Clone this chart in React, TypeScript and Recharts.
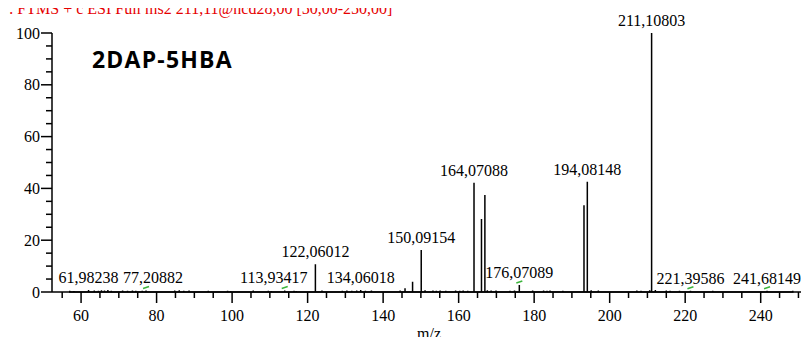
import { ComposedChart, Line, Scatter, XAxis, YAxis } from "recharts";

// centroid peaks (m/z, relative abundance %)
const peakMz = [
  57.0, 58.1, 61.98238, 63.5, 64.6, 65.4, 66.2, 67.1, 68.0, 71.0, 72.3, 73.6, 74.5, 76.2, 77.20882,
  84.8, 86.0, 87.2, 88.6, 93.7, 98.8, 99.6, 105.6, 109.6, 110.4, 113.93417, 116.4, 117.0,
  122.06012, 123.8, 129.2, 130.4, 131.7, 133.0, 134.06018, 135.3, 136.9, 144.5, 145.8, 147.8,
  150.09154, 151.1, 153.2, 154.1, 155.1, 156.6, 159.2, 160.3, 161.2, 162.4, 164.07088, 166.05,
  166.95, 167.6, 168.6, 169.9, 173.6, 174.8, 176.07089, 179.6, 182.5, 183.4, 184.2, 187.6, 193.2,
  194.08148, 195.1, 197.0, 207.2, 208.3, 210.6, 211.10803, 212.1, 215.0, 216.0, 218.5, 221.39586,
  227.3, 241.68149, 248.5,
];
const peakIntensity = [
  0.5, 0.4, 0.8, 0.6, 0.5, 0.7, 0.6, 0.8, 0.5, 0.6, 0.5, 0.6, 0.5, 0.5, 0.6,
  0.6, 0.7, 0.5, 0.6, 0.5, 0.5, 0.4, 0.6, 0.5, 0.4, 0.6, 0.5, 0.4,
  10.7, 0.6, 0.5, 0.6, 0.5, 0.6, 0.8, 0.5, 0.6, 0.6, 1.4, 4.0,
  16.2, 0.7, 0.6, 0.5, 0.6, 0.5, 0.6, 0.5, 0.6, 0.5, 42.2, 28.2,
  37.5, 0.7, 0.6, 0.6, 0.5, 0.6, 2.7, 0.6, 0.6, 0.5, 0.6, 0.5, 33.5,
  42.6, 0.7, 0.6, 0.6, 0.5, 0.7, 100, 0.8, 0.6, 0.5, 0.5, 0.5,
  0.5, 0.5, 0.5,
];

// annotated peaks
const labelMz = [
  61.98238, 77.20882, 113.93417, 122.06012, 134.06018, 150.09154, 164.07088, 176.07089, 194.08148,
  211.10803, 221.39586, 241.68149,
];
const flaggedMz = [77.20882, 113.93417, 176.07089, 221.39586, 241.68149];

const xTicks = [
  55, 60, 65, 70, 75, 80, 85, 90, 95, 100, 105, 110, 115, 120, 125, 130, 135, 140, 145, 150, 155, 160,
  165, 170, 175, 180, 185, 190, 195, 200, 205, 210, 215, 220, 225, 230, 235, 240, 245, 250,
];
const yTicks = [0, 5, 10, 15, 20, 25, 30, 35, 40, 45, 50, 55, 60, 65, 70, 75, 80, 85, 90, 95, 100];

const headerText = "F: FTMS + c ESI Full ms2 211,11@hcd28,00 [50,00-250,00]";
const compoundName = "2DAP-5HBA";

// labels that the instrument software pushed sideways to avoid overlap
const labelNudge: Record<string, number> = { "77.20882": 7, "113.93417": -11 };

const serif = "Liberation Serif, Times New Roman, serif";

const spectrum = peakMz
  .map((mz, i) => ({ mz, y: peakIntensity[i] }))
  .sort((a, b) => a.mz - b.mz)
  .flatMap((p) => [
    { mz: p.mz, y: 0 },
    { mz: p.mz, y: p.y },
    { mz: p.mz, y: 0 },
  ]);

const labelled = labelMz.map((mz) => ({
  mz,
  y: peakIntensity[peakMz.indexOf(mz)],
  text: mz.toFixed(5).replace(".", ","),
  flag: flaggedMz.includes(mz),
  nudge: labelNudge[String(mz)] ?? 0,
}));

function XTick({ x, y, payload }: { x: number; y: number; payload: { value: number } }) {
  const major = payload.value % 20 === 0;
  return (
    <g>
      <line x1={x} x2={x} y1={y} y2={y + (major ? 11 : 6)} stroke="#000" strokeWidth={1.5} />
      {major && (
        <text x={x} y={y + 29} textAnchor="middle" fontFamily={serif} fontSize={16} fill="#000">
          {payload.value}
        </text>
      )}
    </g>
  );
}

function YTick({ x, y, payload }: { x: number; y: number; payload: { value: number } }) {
  const major = payload.value % 20 === 0;
  return (
    <g>
      <line x1={x - (major ? 11 : 6)} x2={x} y1={y} y2={y} stroke="#000" strokeWidth={1.5} />
      {major && (
        <text x={x - 12} y={y} dy="0.35em" textAnchor="end" fontFamily={serif} fontSize={16} fill="#000">
          {payload.value}
        </text>
      )}
    </g>
  );
}

function PeakLabel(props: any) {
  const { cx, cy, payload } = props;
  return (
    <g>
      {payload.flag && (
        <line x1={cx - 3} y1={cy - 2} x2={cx + 3} y2={cy - 4} stroke="#3cb43c" strokeWidth={1.5} />
      )}
      <text x={cx + payload.nudge} y={cy - 7} textAnchor="middle" fontFamily={serif} fontSize={16} fill="#000">
        {payload.text}
      </text>
    </g>
  );
}

export default function App() {
  return (
    <div style={{ position: "relative", width: 809, height: 345, margin: -8, background: "#fff", overflow: "hidden" }}>
      <ComposedChart width={809} height={345} data={spectrum} margin={{ top: 33, right: 3, bottom: 0, left: 0 }}>
        <XAxis
          dataKey="mz"
          type="number"
          domain={[52.3, 252]}
          ticks={xTicks}
          interval={0}
          tickSize={0}
          tickMargin={0}
          tickLine={false}
          axisLine={{ stroke: "#000", strokeWidth: 1.5 }}
          tick={(p: any) => <XTick {...p} />}
          height={53}
        />
        <YAxis
          dataKey="y"
          type="number"
          domain={[0, 100]}
          ticks={yTicks}
          interval={0}
          tickSize={0}
          tickMargin={0}
          tickLine={false}
          axisLine={{ stroke: "#000", strokeWidth: 1.5 }}
          tick={(p: any) => <YTick {...p} />}
          width={52}
        />
        <Line
          dataKey="y"
          type="linear"
          stroke="#000"
          strokeWidth={1.5}
          dot={false}
          activeDot={false}
          isAnimationActive={false}
        />
        <Scatter data={labelled} dataKey="y" shape={PeakLabel} isAnimationActive={false} />
      </ComposedChart>
      <svg width={809} height={345} style={{ position: "absolute", left: 0, top: 0, pointerEvents: "none" }}>
        <text x={0} y={14} fill="#e60000" fontFamily={serif} fontSize={16}>
          {headerText}
        </text>
        <text
          x={92}
          y={68}
          fill="#000"
          fontFamily="Open Sans, sans-serif"
          fontWeight={700}
          fontSize={23}
          letterSpacing={1.2}
        >
          {compoundName}
        </text>
        <text x={429} y={339} textAnchor="middle" fill="#000" fontFamily={serif} fontSize={16}>
          m/z
        </text>
      </svg>
    </div>
  );
}
